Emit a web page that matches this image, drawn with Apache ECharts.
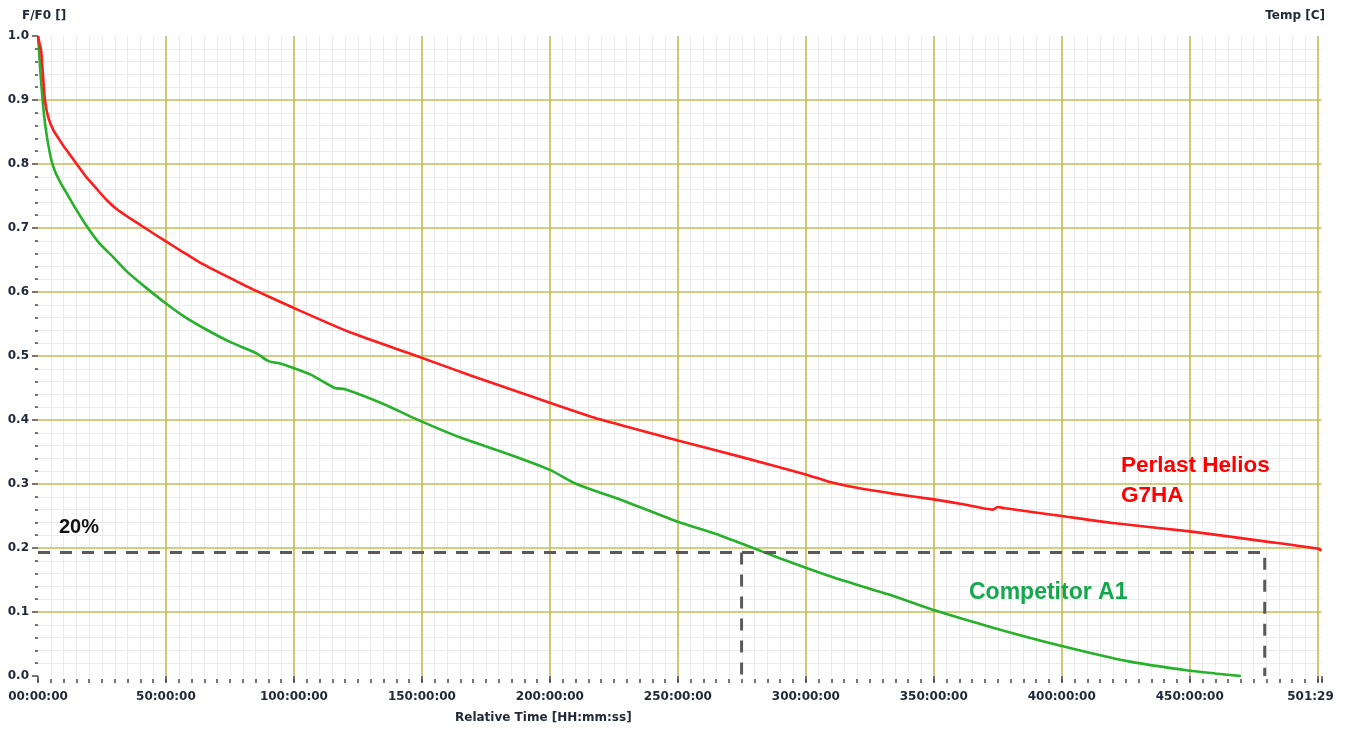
<!DOCTYPE html>
<html>
<head>
<meta charset="utf-8">
<script src="https://cdn.jsdelivr.net/npm/echarts@6/dist/echarts.min.js"></script>
<style>
html,body{margin:0;padding:0;background:#fff;}
#c{width:1347px;height:729px;}
</style>
</head>
<body>
<div id="c"></div>
<script>
// ---- data (time in hours, F/F0) ----
var redHours = [0,0.5,1.2,1.8,2.7,4,6,8,10,12,15.1,19,23.4,27,31.2,36,41.8,50,56,63.3,75,84,100,121.9,148,168.75,200,219.5,250,275,300,309.4,320,334,350,362,373,375,378,400,420,450,480,500,501.48];
var redValues = [1.0,0.99,0.978,0.947,0.90,0.873,0.853,0.840,0.828,0.817,0.80,0.779,0.759,0.743,0.728,0.715,0.70,0.679,0.664,0.646,0.622,0.604,0.575,0.537,0.50,0.470,0.427,0.401,0.368,0.342,0.315,0.303,0.294,0.285,0.276,0.268,0.26,0.264,0.262,0.25,0.239,0.226,0.21,0.199,0.196];
var greenHours = [0,0.5,1.0,1.8,2.4,3.1,4.2,5.3,6.8,8.5,10.5,14,19,24,29.3,35,41.8,50,57,65.9,75,85.4,90,95,100,106,111.4,116,120,135,148,164.8,185,200,210.4,230,250,265,279.4,289.8,300,313,332.8,350,374.5,400,426.6,450,460,470];
var greenValues = [1.0,0.97,0.94,0.90,0.875,0.853,0.826,0.805,0.787,0.773,0.759,0.735,0.703,0.676,0.655,0.631,0.608,0.582,0.562,0.541,0.522,0.504,0.492,0.488,0.481,0.472,0.46,0.45,0.448,0.425,0.401,0.373,0.345,0.322,0.30,0.272,0.241,0.222,0.20,0.184,0.169,0.151,0.127,0.103,0.074,0.047,0.0225,0.0083,0.004,0.0];
// 20% threshold guide
var guideLevel = 0.193;
var guideHoursA = 274.9;
var guideHoursB = 479.3;
// axis
var xMaxHours = 501.483;
var xTickLabels = ['00:00:00','50:00:00','100:00:00','150:00:00','200:00:00','250:00:00','300:00:00','350:00:00','400:00:00','450:00:00',''];
var xMaxLabel = '501:29';
var yTickLabels = ['0.0','0.1','0.2','0.3','0.4','0.5','0.6','0.7','0.8','0.9','1.0'];

function zip(a,b){ return a.map(function(v,i){ return [v,b[i]]; }); }

var labelColor = '#222a3a';
var tickColor = '#4a4a4a';
var majorGrid = '#c3be57';
var minorGrid = '#ebebeb';
var axisFont = 'DejaVu Sans';
var noteFont = 'Liberation Sans';

function note(text, x, y, color, size){
  return {type:'text', x:x, y:y, z:100, silent:true,
    style:{text:text, fill:color, fontFamily:noteFont, fontWeight:700, fontSize:size, verticalAlign:'middle'}};
}

var chart = echarts.init(document.getElementById('c'), null, {renderer:'canvas'});
chart.setOption({
  animation:false,
  backgroundColor:'#ffffff',
  grid:{left:38, right:25.5, top:36, bottom:53, containLabel:false},
  xAxis:[{
    type:'value', min:0, max:xMaxHours, interval:50, offset:3, z:2,
    axisLine:{show:false},
    axisTick:{show:true, length:6, lineStyle:{color:tickColor, width:1.5}},
    axisLabel:{
      margin:12, color:labelColor, fontFamily:axisFont, fontWeight:'bold', fontSize:12,
      showMinLabel:true, showMaxLabel:true,
      formatter:function(v){
        if (Math.abs(v - xMaxHours) < 1e-6) return '{m|' + xMaxLabel + '}';
        var i = Math.round(v/50);
        return xTickLabels[i] !== undefined ? xTickLabels[i] : '';
      },
      rich:{m:{color:labelColor, fontFamily:axisFont, fontWeight:'bold', fontSize:12, padding:[0,22,0,0]}}
    },
    splitLine:{show:true, showMinLine:false, showMaxLine:false, lineStyle:{color:majorGrid, width:1.6}}
  },{
    type:'value', min:0, max:xMaxHours, interval:5, offset:3, z:1, position:'bottom',
    axisLine:{show:false},
    axisTick:{show:true, length:4, lineStyle:{color:tickColor, width:1.5}},
    axisLabel:{show:false},
    splitLine:{show:true, showMinLine:false, showMaxLine:false, lineStyle:{color:minorGrid, width:1}}
  }],
  yAxis:[{
    type:'value', min:0, max:1, interval:0.1, offset:2, z:2,
    axisLine:{show:false},
    axisTick:{show:true, length:6, lineStyle:{color:tickColor, width:1.5}},
    minorTick:{show:true, splitNumber:5, length:3, lineStyle:{color:tickColor, width:1.5}},
    minorSplitLine:{show:true, lineStyle:{color:minorGrid, width:1}},
    axisLabel:{
      margin:7, color:labelColor, fontFamily:axisFont, fontWeight:'bold', fontSize:12,
      formatter:function(v){ return yTickLabels[Math.round(v*10)]; }
    },
    splitLine:{show:true, showMinLine:false, showMaxLine:false, lineStyle:{color:majorGrid, width:1.6}}
  }],
  series:[
    {type:'line', name:'Competitor A1', xAxisIndex:0, data:zip(greenHours,greenValues), showSymbol:false,
     smooth:0.2, lineStyle:{color:'#26b12a', width:2.6}, z:3},
    {type:'line', name:'Perlast Helios G7HA', xAxisIndex:0, data:zip(redHours,redValues), showSymbol:false,
     smooth:0.2, lineStyle:{color:'#ff1c1c', width:2.6}, z:4},
    {type:'line', name:'guideH', xAxisIndex:0, data:[[0,guideLevel],[guideHoursB,guideLevel],[guideHoursB,0]], showSymbol:false,
     lineStyle:{color:'#5a5a5a', width:3, type:[12,10]}, z:5},
    {type:'line', name:'guideV', xAxisIndex:0, data:[[guideHoursA,guideLevel],[guideHoursA,0]], showSymbol:false,
     lineStyle:{color:'#5a5a5a', width:3, type:[12,10]}, z:5}
  ],
  graphic:[
    {type:'text', left:22, top:10, z:100, silent:true, style:{text:'F/F0 []', fill:labelColor, fontFamily:axisFont, fontWeight:'bold', fontSize:12}},
    {type:'text', right:22, top:10, z:100, silent:true, style:{text:'Temp [C]', fill:labelColor, fontFamily:axisFont, fontWeight:'bold', fontSize:12}},
    {type:'text', left:455, top:712, z:100, silent:true, style:{text:'Relative Time [HH:mm:ss]', fill:labelColor, fontFamily:axisFont, fontWeight:'bold', fontSize:12}},
    note('20%', 59, 527, '#111111', 20),
    note('Perlast Helios', 1121, 466, '#ff0000', 22.5),
    note('G7HA', 1121, 496, '#ff0000', 22.5),
    note('Competitor A1', 969, 593, '#14a84c', 23)
  ]
});
</script>
</body>
</html>
